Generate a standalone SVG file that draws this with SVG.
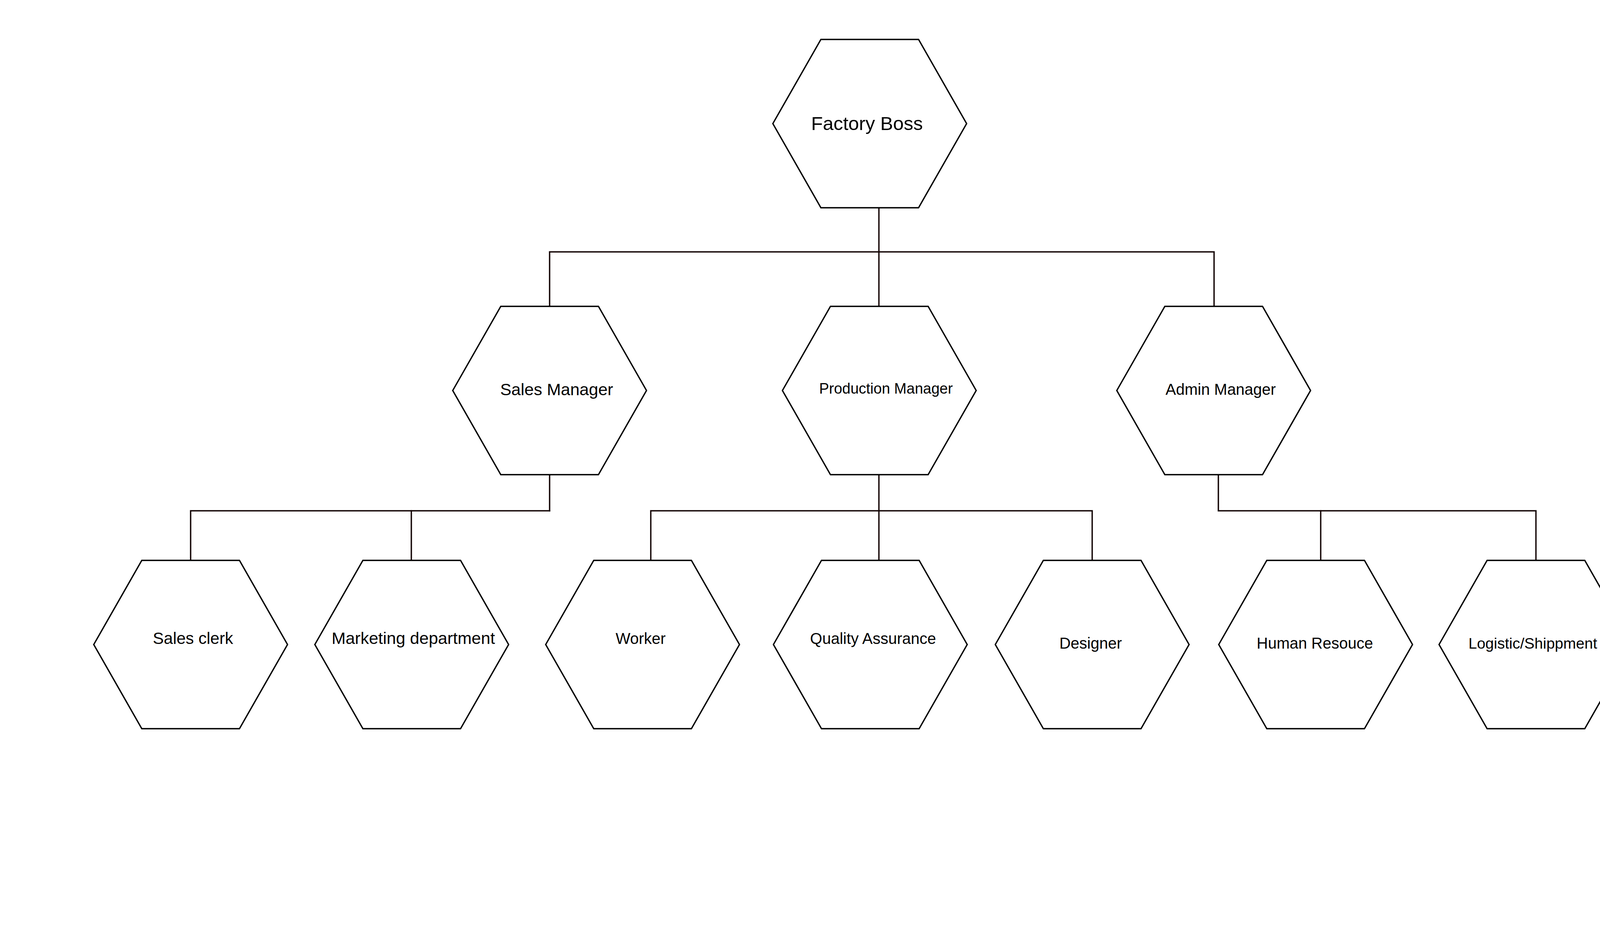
<svg xmlns="http://www.w3.org/2000/svg" width="4412" height="2402" viewBox="0 0 4412 2402">
<defs>
<style>
.hex{fill:#ffffff;stroke:#000000;stroke-width:3.5;stroke-linejoin:miter}
.lbl{font-family:"Liberation Sans",Arial,sans-serif;fill:#000000;text-anchor:middle}
.con{fill:none;stroke:#140606;stroke-width:3.5;stroke-linecap:square;stroke-linejoin:miter}
</style>
<polygon id="hexshape" points="-248,0 -125,-215.5 125,-215.5 248,0 125,215.5 -125,215.5"/>
</defs>
<rect x="0" y="0" width="4412" height="2402" fill="#ffffff"/>
<g id="connectors">
<path class="con" d="M2250,532 V785"/>
<path class="con" d="M1407,785 V645 H3108 V785"/>
<path class="con" d="M1407,1215 V1308"/>
<path class="con" d="M488,1436 V1308 H1407"/>
<path class="con" d="M1053,1308 V1436"/>
<path class="con" d="M2250,1215 V1436"/>
<path class="con" d="M1666,1436 V1308 H2796 V1436"/>
<path class="con" d="M3119,1215 V1308 H3932 V1436"/>
<path class="con" d="M3381,1308 V1436"/>
</g>
<g id="node-factory-boss" transform="translate(2226.5,316.5)">
<use href="#hexshape" class="hex"/>
<text class="lbl" x="-7" y="16.5" font-size="49">Factory Boss</text>
</g>
<g id="node-sales-manager" transform="translate(1407,1000)">
<use href="#hexshape" class="hex"/>
<text class="lbl" x="18" y="12" font-size="43">Sales Manager</text>
</g>
<g id="node-production-manager" transform="translate(2251,1000)">
<use href="#hexshape" class="hex"/>
<text class="lbl" x="17" y="8" font-size="38">Production Manager</text>
</g>
<g id="node-admin-manager" transform="translate(3107,1000)">
<use href="#hexshape" class="hex"/>
<text class="lbl" x="18" y="11" font-size="40">Admin Manager</text>
</g>
<g id="node-sales-clerk" transform="translate(488,1650.5)">
<use href="#hexshape" class="hex"/>
<text class="lbl" x="6" y="-1.5" font-size="42">Sales clerk</text>
</g>
<g id="node-marketing-department" transform="translate(1054,1650.5)">
<use href="#hexshape" class="hex"/>
<text class="lbl" x="4" y="-1.5" font-size="43">Marketing department</text>
</g>
<g id="node-worker" transform="translate(1645,1650.5)">
<use href="#hexshape" class="hex"/>
<text class="lbl" x="-5" y="-1.5" font-size="40">Worker</text>
</g>
<g id="node-quality-assurance" transform="translate(2228,1650.5)">
<use href="#hexshape" class="hex"/>
<text class="lbl" x="7" y="-1.5" font-size="40">Quality Assurance</text>
</g>
<g id="node-designer" transform="translate(2796,1650.5)">
<use href="#hexshape" class="hex"/>
<text class="lbl" x="-4" y="10.5" font-size="40">Designer</text>
</g>
<g id="node-human-resouce" transform="translate(3368,1650.5)">
<use href="#hexshape" class="hex"/>
<text class="lbl" x="-2" y="10.5" font-size="40">Human Resouce</text>
</g>
<g id="node-logistic-shippment" transform="translate(3932,1650.5)">
<use href="#hexshape" class="hex"/>
<text class="lbl" x="-8" y="10.5" font-size="39">Logistic/Shippment</text>
</g>
</svg>
